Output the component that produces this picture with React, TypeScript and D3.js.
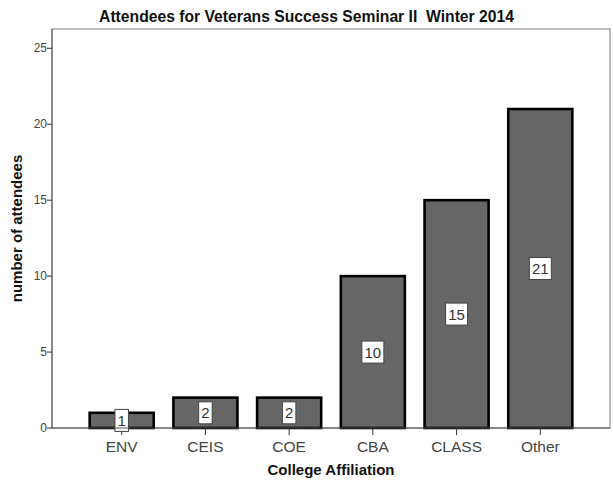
import React from "react";
import * as d3 from "d3";

const colleges = ["ENV", "CEIS", "COE", "CBA", "CLASS", "Other"];
const attendees = [1, 2, 2, 10, 15, 21];
const yTicks = [0, 5, 10, 15, 20, 25];

const width = 613;
const height = 484;
const margin = { left: 52, right: 3, top: 29, bottom: 56 };
const font = "Arial, 'Liberation Sans', sans-serif";

const App = () => {
    const xScale = d3
        .scaleBand<string>()
        .domain(colleges)
        .range([margin.left, width - margin.right])
        .paddingInner(0.235)
        .paddingOuter(0.45);
    const yScale = d3
        .scaleLinear()
        .domain([0, 26.27])
        .range([height - margin.bottom, margin.top]);
    const y0 = yScale(0);
    const plotCenter = (margin.left + width - margin.right) / 2;

    return (
        <svg
            width={width}
            height={height}
            style={{ position: "absolute", left: 0, top: 0, background: "#fff" }}
            fontFamily={font}
        >
            <text x={width / 2} y={21.5} textAnchor="middle" fontSize={15.7} fontWeight="bold" fill="#111">
                Attendees for Veterans Success Seminar II{"\u00a0\u00a0"}Winter 2014
            </text>
            {/* plot frame */}
            <rect
                x={margin.left}
                y={margin.top}
                width={width - margin.left - margin.right}
                height={y0 - margin.top}
                fill="none"
                stroke="#7a7a7a"
                strokeWidth={1}
            />
            {/* y axis */}
            <line x1={margin.left} x2={margin.left} y1={margin.top} y2={y0} stroke="#555" />
            {yTicks.map((t) => (
                <g key={t}>
                    <line x1={margin.left - 5} x2={margin.left} y1={yScale(t)} y2={yScale(t)} stroke="#333" />
                    <text x={margin.left - 5} y={yScale(t) + 4} textAnchor="end" fontSize={12} fill="#444">
                        {t}
                    </text>
                </g>
            ))}
            <text
                transform={`translate(22, ${(margin.top + y0) / 2}) rotate(-90)`}
                textAnchor="middle"
                fontSize={15}
                fontWeight="bold"
                fill="#111"
            >
                number of attendees
            </text>
            {/* bars */}
            {colleges.map((c, i) => {
                const x = xScale(c) as number;
                const bw = xScale.bandwidth();
                const yTop = yScale(attendees[i]);
                const mid = (yTop + y0) / 2;
                const label = String(attendees[i]);
                const boxW = label.length * 8.5 + 5;
                return (
                    <g key={c}>
                        <rect x={x} y={yTop} width={bw} height={y0 - yTop} fill="#666" stroke="#000" strokeWidth={2.6} />
                        <line x1={x + bw / 2} x2={x + bw / 2} y1={y0} y2={y0 + 7} stroke="#333" />
                        <text x={x + bw / 2} y={y0 + 24} textAnchor="middle" fontSize={15.5} fill="#444">
                            {c}
                        </text>
                        <rect
                            x={x + bw / 2 - boxW / 2}
                            y={mid - 11}
                            width={boxW}
                            height={22}
                            fill="#fff"
                            stroke="#444"
                            strokeWidth={1}
                        />
                        <text x={x + bw / 2} y={mid + 5.5} textAnchor="middle" fontSize={15} fill="#333">
                            {label}
                        </text>
                    </g>
                );
            })}
            {/* baseline */}
            <line x1={margin.left} x2={width - margin.right} y1={y0} y2={y0} stroke="#555" />
            <text x={plotCenter} y={475} textAnchor="middle" fontSize={15} fontWeight="bold" fill="#111">
                College Affiliation
            </text>
        </svg>
    );
};

export default App;
